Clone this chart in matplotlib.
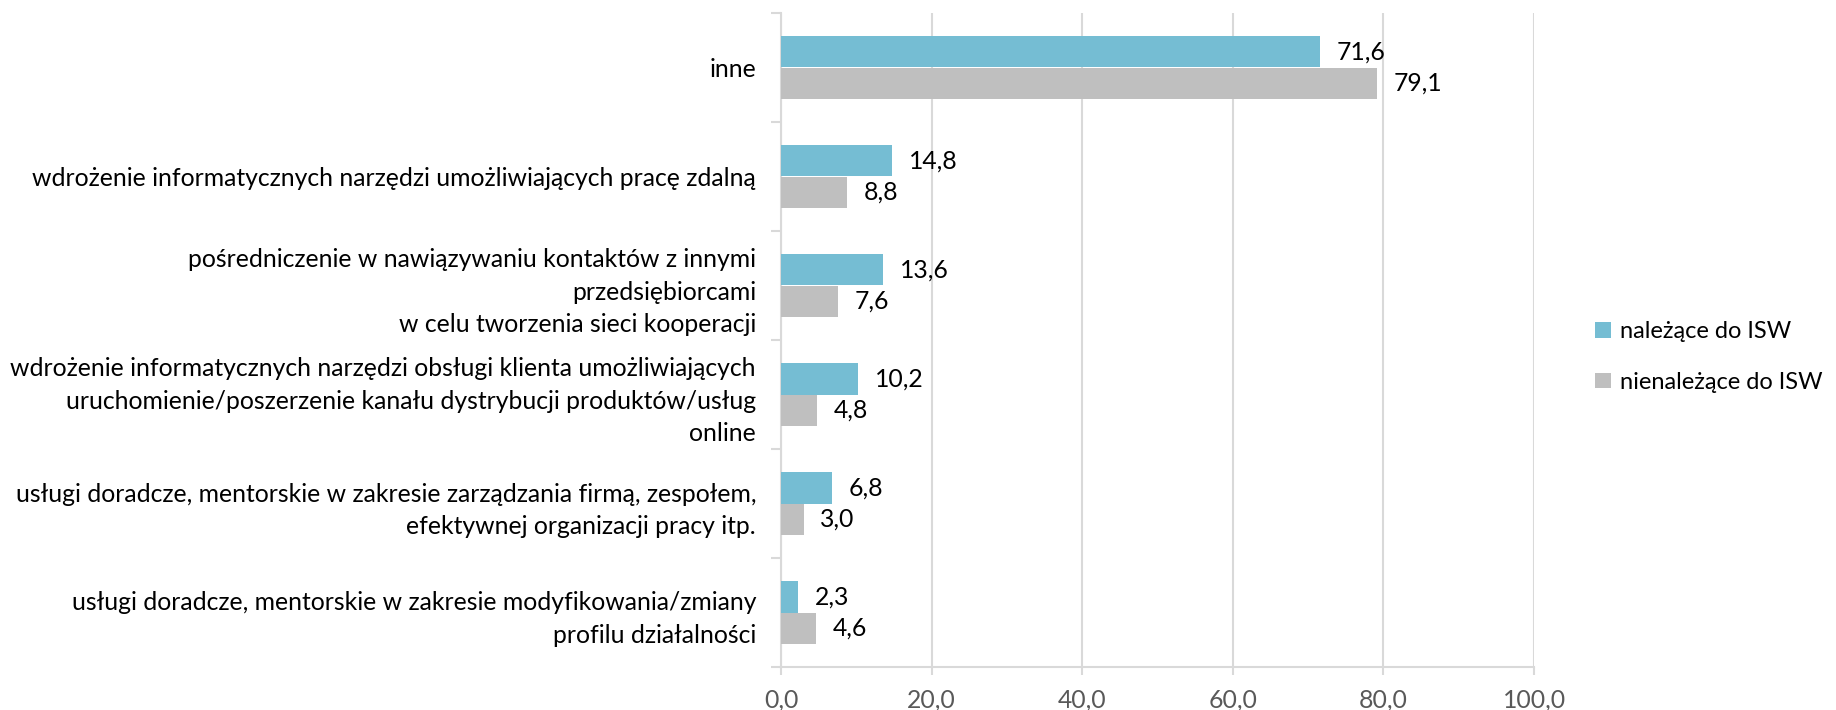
import matplotlib
matplotlib.use("Agg")
import matplotlib.pyplot as plt
from matplotlib.ticker import FixedLocator, FuncFormatter
from matplotlib.patches import Patch
import numpy as np

categories = [
    "inne",
    "wdrożenie informatycznych narzędzi umożliwiających pracę zdalną",
    "pośredniczenie w nawiązywaniu kontaktów z innymi\nprzedsiębiorcami\nw celu tworzenia sieci kooperacji",
    "wdrożenie informatycznych narzędzi obsługi klienta umożliwiających\nuruchomienie/poszerzenie kanału dystrybucji produktów/usług\nonline",
    "usługi doradcze, mentorskie w zakresie zarządzania firmą, zespołem,\nefektywnej organizacji pracy itp.",
    "usługi doradcze, mentorskie w zakresie modyfikowania/zmiany\nprofilu działalności",
]
series_names = ["należące do ISW", "nienależące do ISW"]
isw = [71.6, 14.8, 13.6, 10.2, 6.8, 2.3]
non_isw = [79.1, 8.8, 7.6, 4.8, 3.0, 4.6]
x_ticks = [0, 20, 40, 60, 80, 100]

colors = ["#75BDD3", "#BFBFBF"]
FONT = "Lato"
FS = 17.8

plt.rcParams["font.family"] = [FONT, "DejaVu Sans"]

fig = plt.figure(figsize=(18.36, 7.10), dpi=100)
ax = fig.add_axes([781/1836, 1 - 667/710, (1534 - 781)/1836, (667 - 13)/710])

n = len(categories)
y = np.arange(n)
h = 0.285
b1 = ax.barh(y - h/2, isw, height=h, color=colors[0], zorder=3)
b2 = ax.barh(y + h/2, non_isw, height=h, color=colors[1], zorder=3)

for bars, vals in ((b1, isw), (b2, non_isw)):
    for rect, v in zip(bars, vals):
        ax.annotate(f"{v:.1f}".replace(".", ","),
                    xy=(rect.get_width(), rect.get_y() + rect.get_height()/2),
                    xytext=(12, 0), textcoords="offset points",
                    va="center", ha="left", fontsize=FS, color="#000000")

ax.set_xlim(0, 100)
ax.set_ylim(n - 0.5, -0.5)
ax.xaxis.set_major_locator(FixedLocator(x_ticks))
ax.xaxis.set_major_formatter(FuncFormatter(lambda v, p: f"{v:.1f}".replace(".", ",")))
ax.grid(axis="x", color="#D9D9D9", linewidth=1.5, zorder=0)
ax.tick_params(axis="x", colors="#D9D9D9", labelcolor="#595959", labelsize=FS,
               length=6, width=1.5, direction="out", pad=18)
for lbl in ax.get_xticklabels():
    lbl.set_verticalalignment("center")

ax.set_yticks(y)
ax.set_yticklabels(categories, fontsize=FS, color="#000000", linespacing=1.5)
ax.yaxis.set_minor_locator(FixedLocator(np.arange(n + 1) - 0.5))
ax.tick_params(axis="y", which="major", length=0, pad=18)
ax.tick_params(axis="y", which="minor", length=7, width=1.5, color="#D9D9D9")

for s in ["top", "right"]:
    ax.spines[s].set_visible(False)
for s in ["left", "bottom"]:
    ax.spines[s].set_color("#D9D9D9")
    ax.spines[s].set_linewidth(1.5)

handles = [Patch(facecolor=c, edgecolor="none") for c in colors]
fig.legend(handles, series_names, loc="center left",
           bbox_to_anchor=(1574/1836, 1 - 357/710), frameon=False, fontsize=17.0,
           handlelength=0.65, handleheight=0.65, handletextpad=0.4, labelspacing=1.25)

fig.savefig("out.png", dpi=100)
